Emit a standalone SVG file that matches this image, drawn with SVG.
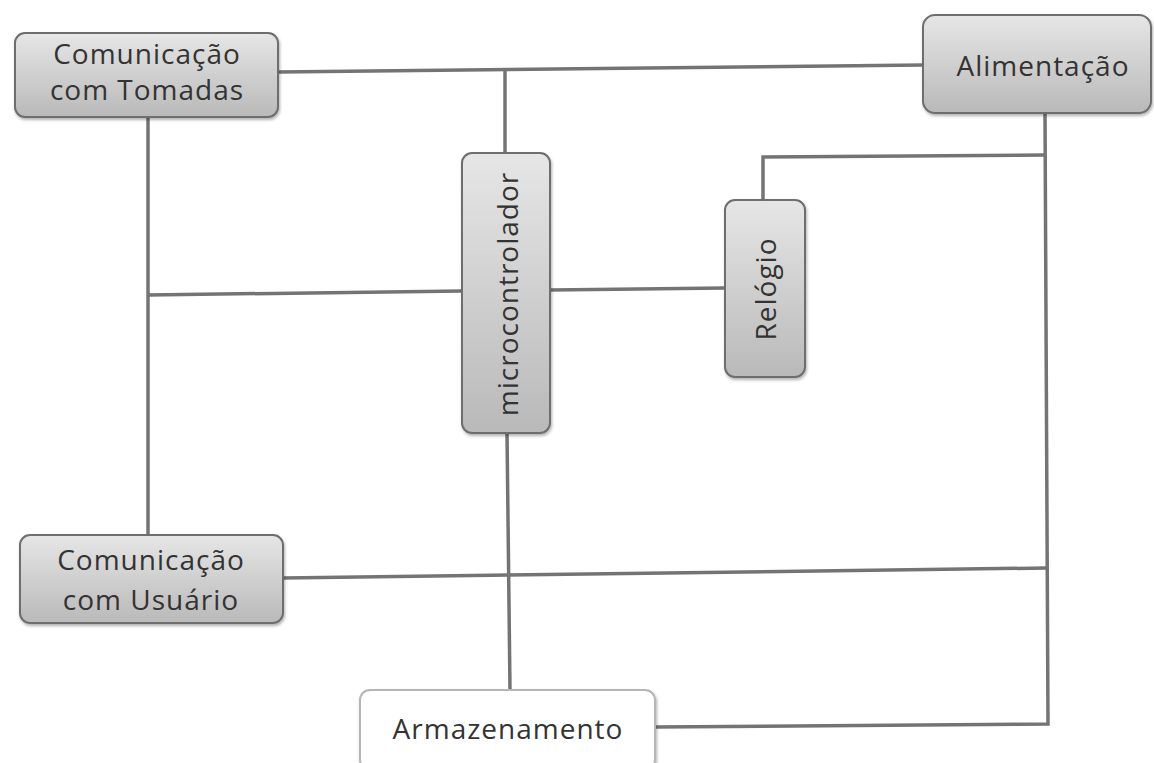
<svg xmlns="http://www.w3.org/2000/svg" width="1154" height="763" viewBox="0 0 1154 763">
  <style>
    .box { fill: url(#boxFill); stroke: #6e6e6e; stroke-width: 2; filter: url(#shadow); }
    .box-light { fill: #ffffff; stroke: #b5b5b5; stroke-width: 2; filter: url(#shadow); }
    .lbl { font-family: "Open Sans", "Noto Sans", sans-serif; font-size: 28px; letter-spacing: 1px; fill: #333333; text-anchor: middle; dominant-baseline: central; }
    .wire { fill: none; stroke: #747474; stroke-width: 3.5; stroke-linejoin: miter; }
  </style>
  <defs>
    <linearGradient id="boxFill" x1="0" y1="0" x2="0" y2="1">
      <stop offset="0" stop-color="#e6e6e6"/>
      <stop offset="1" stop-color="#b9b9b9"/>
    </linearGradient>
    <filter id="shadow" x="-10%" y="-10%" width="120%" height="130%">
      <feDropShadow dx="1" dy="2" stdDeviation="1.5" flood-color="#000" flood-opacity="0.3"/>
    </filter>
  </defs>
  <rect width="1154" height="763" fill="#ffffff"/>

  <!-- connectors -->
  <g id="connectors" class="wire">
    <polyline points="278,72 923,65"/>
    <polyline points="505,70 505,153"/>
    <polyline points="148,117 148,535"/>
    <polyline points="148,295 462,291"/>
    <polyline points="550,290 725,288"/>
    <polyline points="763,200 763,157 1045,155"/>
    <polyline points="1045,113 1048,724 655,727"/>
    <polyline points="283,578 1046,568"/>
    <polyline points="507,433 510,690"/>
  </g>

  <g id="tomadas">
    <rect class="box" x="15" y="33" width="263" height="84" rx="10"/>
    <text class="lbl" x="147" y="53">Comunicação</text>
    <text class="lbl" x="147" y="89">com Tomadas</text>
  </g>

  <g id="alimentacao">
    <rect class="box" x="923" y="15" width="228" height="98" rx="12"/>
    <text class="lbl" x="1043" y="65">Alimentação</text>
  </g>

  <g id="microcontrolador">
    <rect class="box" x="462" y="153" width="88" height="280" rx="10"/>
    <text class="lbl" transform="translate(507,294) rotate(-90)">microcontrolador</text>
  </g>

  <g id="relogio">
    <rect class="box" x="725" y="200" width="80" height="177" rx="10"/>
    <text class="lbl" transform="translate(765,289) rotate(-90)">Relógio</text>
  </g>

  <g id="usuario">
    <rect class="box" x="20" y="535" width="263" height="88" rx="10"/>
    <text class="lbl" x="151" y="559">Comunicação</text>
    <text class="lbl" x="151" y="599">com Usuário</text>
  </g>

  <g id="armazenamento">
    <rect class="box-light" x="360" y="690" width="295" height="80" rx="10"/>
    <text class="lbl" x="508" y="728">Armazenamento</text>
  </g>
</svg>
